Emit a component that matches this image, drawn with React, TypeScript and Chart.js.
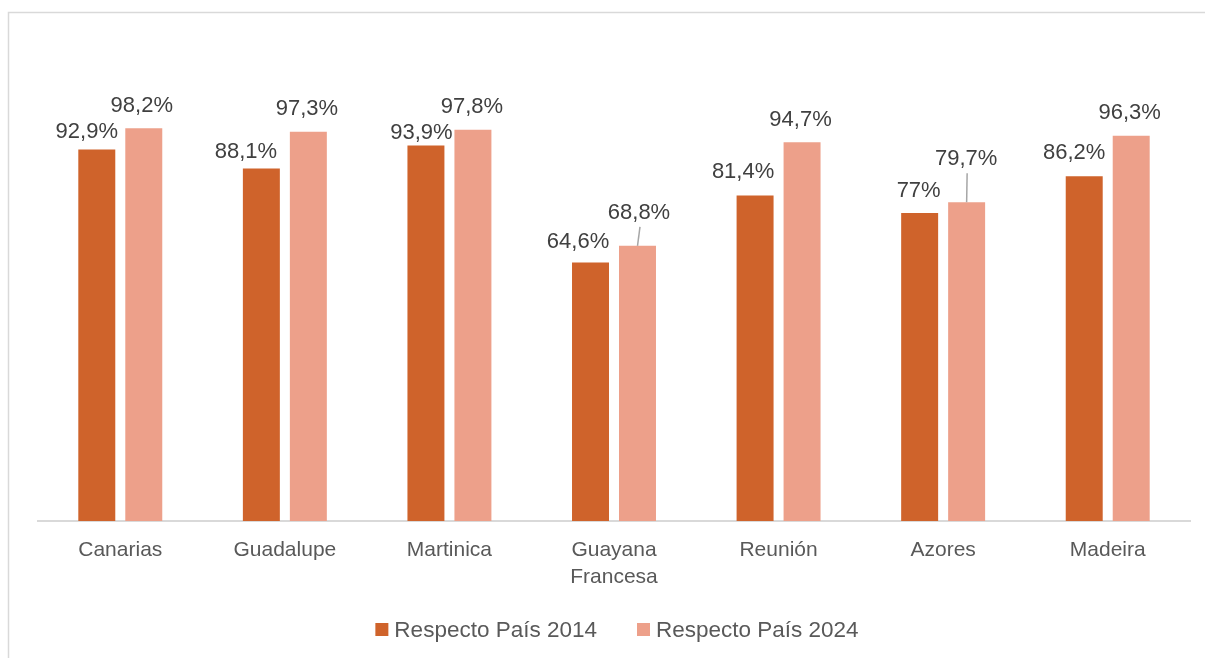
import React, { useEffect, useRef } from "react";
import { Chart, registerables } from "chart.js";

Chart.register(...registerables);

const categories: (string | string[])[] = [
  "Canarias",
  "Guadalupe",
  "Martinica",
  ["Guayana", "Francesa"],
  "Reunión",
  "Azores",
  "Madeira",
];
const series2014 = [92.9, 88.1, 93.9, 64.6, 81.4, 77, 86.2];
const series2024 = [98.2, 97.3, 97.8, 68.8, 94.7, 79.7, 96.3];
const seriesNames = ["Respecto País 2014", "Respecto País 2024"];
const seriesColors = ["#CF632B", "#EDA08A"];

// label nudges (text centre offset from bar centre, baseline gap above bar top)
const labelDx2014 = [-10, -15.5, -4.5, -12.5, -12, -1, -10];
const labelGap2014 = [11, 11, 6, 15, 17, 16, 17];
const labelDx2024 = [-2, -1.5, -1, 1.5, -1.5, -0.5, -1.5];
const labelGap2024 = [16, 17, 17, 27, 16, 37, 17];

const FONT = '"Liberation Sans", Arial, sans-serif';

const fmt = (v: number) => String(v).replace(".", ",") + "%";

const framePlugin = {
  id: "frame",
  beforeDraw(chart: any) {
    const ctx = chart.ctx;
    ctx.save();
    ctx.fillStyle = "#ffffff";
    ctx.fillRect(0, 0, chart.width, chart.height);
    ctx.strokeStyle = "#d9d9d9";
    ctx.lineWidth = 1.5;
    ctx.strokeRect(8.5, 12.5, 2000, 2000);
    ctx.restore();
  },
};

const labelsPlugin = {
  id: "barLabels",
  afterDatasetsDraw(chart: any) {
    const ctx = chart.ctx;
    ctx.save();
    ctx.font = `22px ${FONT}`;
    ctx.textAlign = "center";
    ctx.textBaseline = "alphabetic";
    chart.data.datasets.forEach((ds: any, di: number) => {
      const meta = chart.getDatasetMeta(di);
      const dxs = di === 0 ? labelDx2014 : labelDx2024;
      const gaps = di === 0 ? labelGap2014 : labelGap2024;
      meta.data.forEach((bar: any, i: number) => {
        const tx = bar.x + dxs[i];
        const ty = bar.y - gaps[i];
        if (gaps[i] > 25) {
          ctx.strokeStyle = "#a6a6a6";
          ctx.lineWidth = 1.5;
          ctx.beginPath();
          ctx.moveTo(tx + 1, ty + 8);
          ctx.lineTo(bar.x, bar.y);
          ctx.stroke();
        }
        ctx.fillStyle = "#404040";
        ctx.fillText(fmt(ds.data[i]), tx, ty);
      });
    });
    ctx.restore();
  },
};

const legendPlugin = {
  id: "customLegend",
  afterDraw(chart: any) {
    const ctx = chart.ctx;
    ctx.save();
    ctx.font = `22.5px ${FONT}`;
    ctx.textBaseline = "alphabetic";
    ctx.textAlign = "left";
    const box = 13;
    const gapBoxText = 6;
    const gapItems = 40;
    const items = chart.data.datasets.map((ds: any) => ({
      label: ds.label,
      color: ds.backgroundColor,
      w: ctx.measureText(ds.label).width,
    }));
    const total =
      items.reduce((s: number, it: any) => s + box + gapBoxText + it.w, 0) +
      gapItems * (items.length - 1);
    const ca = chart.chartArea;
    let x = (ca.left + ca.right) / 2 + 3 - total / 2;
    const baseline = 637;
    items.forEach((it: any) => {
      ctx.fillStyle = it.color;
      ctx.fillRect(x, 623, box, box);
      x += box + gapBoxText;
      ctx.fillStyle = "#595959";
      ctx.fillText(it.label, x, baseline);
      x += it.w + gapItems;
    });
    ctx.restore();
  },
};

export default function App() {
  const ref = useRef<HTMLCanvasElement | null>(null);

  useEffect(() => {
    if (!ref.current) return;
    const chart = new Chart(ref.current, {
      type: "bar",
      data: {
        labels: categories,
        datasets: [
          {
            label: seriesNames[0],
            data: series2014,
            backgroundColor: seriesColors[0],
            categoryPercentage: 0.571,
            barPercentage: 0.787,
          },
          {
            label: seriesNames[1],
            data: series2024,
            backgroundColor: seriesColors[1],
            categoryPercentage: 0.571,
            barPercentage: 0.787,
          },
        ] as any,
      },
      options: {
        animation: false,
        responsive: false,
        maintainAspectRatio: false,
        layout: { padding: { left: 38, right: 15, top: 121, bottom: 0 } },
        plugins: {
          legend: { display: false },
          tooltip: { enabled: false },
        },
        scales: {
          x: {
            grid: { display: false, drawTicks: false },
            border: { display: true, color: "#d9d9d9", width: 2 },
            ticks: {
              color: "#595959",
              font: { family: FONT, size: 21, lineHeight: 1.28 },
              padding: 16,
              maxRotation: 0,
              autoSkip: false,
            },
            afterFit(scale: any) {
              scale.height = 137;
            },
          },
          y: {
            display: false,
            min: 0,
            max: 100,
          },
        },
      },
      plugins: [framePlugin, labelsPlugin, legendPlugin],
    });
    return () => chart.destroy();
  }, []);

  return (
    <div style={{ position: "fixed", left: 0, top: 0, width: 1205, height: 658, background: "#fff" }}>
      <canvas ref={ref} width={1205} height={658} style={{ width: 1205, height: 658, display: "block" }} />
    </div>
  );
}
